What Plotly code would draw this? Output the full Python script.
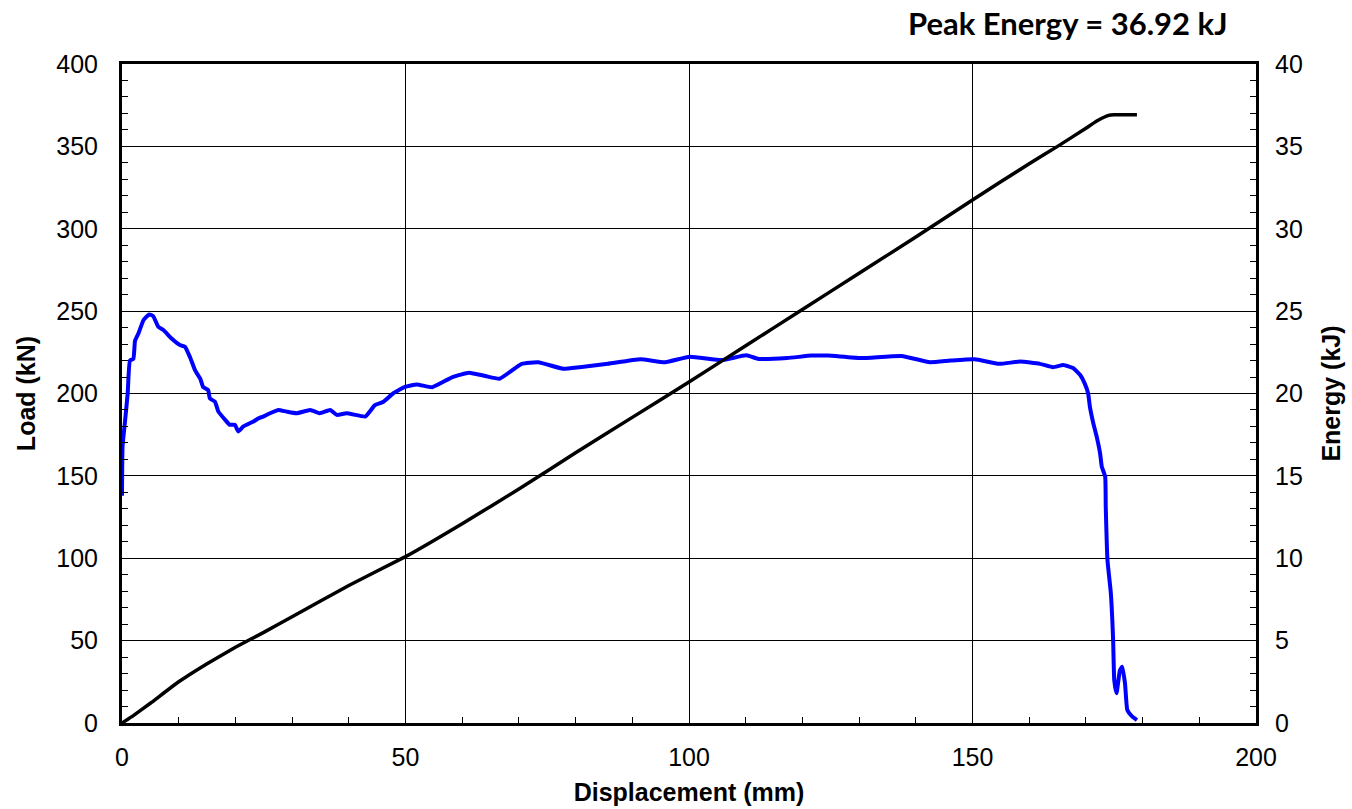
import plotly.graph_objects as go

# Load vs displacement
disp_load = [0, 0.1, 0.5, 1.0, 1.4, 2.0, 2.3, 2.9, 3.8, 4.8, 5.5, 6.4, 7.3, 8.7, 10.2, 11.1,
             12.0, 12.9, 13.8, 14.3, 15.2, 15.5, 16.4, 17.0, 18.2, 19.0, 19.9, 20.5, 21.4,
             23.2, 24.1, 24.9, 26.1, 27.6, 29.0, 30.8, 33.2, 34.9, 36.7, 37.9, 39.6, 42.9,
             43.7, 44.6, 46.1, 47.8, 49.9, 52.0, 54.7, 58.3, 61.2, 64.1, 66.6, 70.5, 73.4,
             77.8, 80.7, 85.7, 91.4, 95.8, 100.1, 105.8, 110.1, 112.3, 117.3, 121.6, 124.5,
             130.3, 137.5, 142.5, 146.1, 150.4, 154.7, 158.4, 161.9, 164.2, 166.0, 167.8,
             169.0, 169.8, 170.4, 170.7, 171.3, 171.9, 172.5, 172.8, 173.4, 173.5, 173.8,
             174.4, 174.8, 175.0, 175.4, 176.0, 176.4, 176.9, 177.3, 178.1, 179.0]
load_kn = [138, 168, 182, 200, 220, 221, 232, 236.5, 244.6, 248, 247, 240.5, 238.5, 233.5,
           229.4, 228.4, 222, 214, 209, 204, 202, 197, 195, 189, 184, 181, 181, 177, 180,
           183, 185, 186, 188, 190, 189, 188, 190, 188, 190, 187, 188, 186, 189, 193, 195,
           200, 204, 205.5, 203.8, 210, 212.6, 210.6, 209, 218, 219, 215, 216, 218, 220.8,
           219, 222.3, 220.3, 223.2, 221, 221.5, 223, 223, 221.5, 222.8, 219, 220, 220.8,
           218, 219.4, 218, 216, 217.3, 215.3, 211.2, 206, 200, 192, 182, 173.8, 163.7,
           155.6, 149.5, 131.3, 99, 78.7, 50.4, 26, 18, 32, 34.2, 24, 7.9, 4.2, 1.8]

# Energy vs displacement
disp_energy = [0, 2, 5, 10, 15, 20, 25, 30, 40, 50, 60, 70, 80, 90, 100, 110, 120, 130,
               140, 150, 160, 165, 170, 172, 174, 175, 179]
energy_kj = [0, 0.45, 1.2, 2.5, 3.6, 4.6, 5.5, 6.45, 8.35, 10.1, 12.1, 14.2, 16.4, 18.55,
             20.7, 22.9, 25.1, 27.3, 29.5, 31.75, 33.95, 35.0, 36.1, 36.55, 36.88, 36.92, 36.92]

peak_text = "Peak Energy = 36.92 kJ"

fig = go.Figure()
fig.add_trace(go.Scatter(x=disp_load, y=load_kn, mode="lines",
                         line=dict(color="#0000ff", width=4, shape="spline", smoothing=0.4),
                         yaxis="y", showlegend=False))
fig.add_trace(go.Scatter(x=disp_energy, y=energy_kj, mode="lines",
                         line=dict(color="#000000", width=3.5, shape="spline", smoothing=0.3),
                         yaxis="y2", showlegend=False))

tickfont = dict(family="Liberation Sans", size=25, color="#000")
titlefont = dict(family="Liberation Sans", size=25, color="#000", weight="bold")

fig.update_layout(
    width=1352, height=809,
    margin=dict(l=122, r=96, t=64, b=86),
    paper_bgcolor="white", plot_bgcolor="white",
    xaxis=dict(range=[0, 200], dtick=50, showgrid=True, gridcolor="#000", gridwidth=1,
               showline=True, linecolor="#000", linewidth=3, mirror=True, automargin=False,
               ticks="inside", ticklen=0, tickfont=tickfont, ticklabelstandoff=10,
               minor=dict(dtick=10, ticks="inside", ticklen=6, tickcolor="#000", showgrid=False),
               zeroline=False,
               title=dict(text="Displacement (mm)", font=titlefont, standoff=14)),
    yaxis=dict(range=[0, 400], dtick=50, showgrid=True, gridcolor="#000", gridwidth=1,
               showline=True, linecolor="#000", linewidth=3, mirror=True, automargin=False,
               ticks="inside", ticklen=0, tickfont=tickfont, ticklabelstandoff=16,
               minor=dict(dtick=10, ticks="inside", ticklen=6, tickcolor="#000", showgrid=False),
               zeroline=False,
               title=dict(text="Load (kN)", font=titlefont, standoff=14)),
    yaxis2=dict(range=[0, 40], dtick=5, overlaying="y", side="right", showgrid=False,
                showline=False, ticks="inside", ticklen=0, tickfont=tickfont, automargin=False,
                ticklabelstandoff=18,
                minor=dict(dtick=1, ticks="inside", ticklen=6, tickcolor="#000", showgrid=False),
                zeroline=False,
                title=dict(text="Energy (kJ)", font=titlefont, standoff=20)),
    annotations=[dict(text=peak_text, xref="paper", yref="paper", x=0.834, y=1.0,
                      yshift=41, xanchor="center", yanchor="middle", showarrow=False,
                      font=dict(family="Lato", size=31, color="#000", weight="bold"))],
)

fig.write_html("out.html")
